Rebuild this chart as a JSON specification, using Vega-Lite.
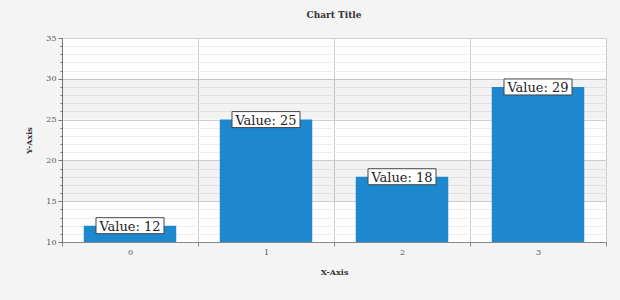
{
  "$schema": "https://vega.github.io/schema/vega-lite/v6.json",
  "width": 544,
  "height": 204,
  "autosize": {"type": "none"},
  "padding": {"left": 62, "top": 38, "right": 14, "bottom": 58},
  "background": "#f4f4f4",
  "config": {
    "view": {"fill": "white", "stroke": "#cccccc"},
    "font": "DejaVu Serif"
  },
  "title": {"text": "Chart Title", "fontSize": 9, "fontWeight": "bold", "font": "DejaVu Serif", "color": "#333333", "offset": 14},
  "datasets": {
    "bars": [
      {"category": "0", "value": 12},
      {"category": "1", "value": 25},
      {"category": "2", "value": 18},
      {"category": "3", "value": 29}
    ],
    "bands": [
      {"from": 15, "to": 20},
      {"from": 25, "to": 30}
    ]
  },
  "layer": [
    {
      "data": {"name": "bands"},
      "mark": {"type": "rect", "fill": "#000000", "opacity": 0.05},
      "encoding": {
        "y": {"field": "from", "type": "quantitative", "scale": {"domain": [10, 35], "nice": false, "zero": false}},
        "y2": {"field": "to"}
      }
    },
    {
      "data": {"name": "bars"},
      "mark": {"type": "bar", "color": "#1e88ce", "width": {"band": 0.68}, "clip": true},
      "encoding": {
        "x": {
          "field": "category", "type": "ordinal",
          "scale": {"paddingInner": 0, "paddingOuter": 0},
          "axis": {
            "title": "X-Axis", "titleFont": "DejaVu Serif", "titleFontSize": 8, "titleFontWeight": "bold", "titleColor": "#333333", "titlePadding": 12,
            "labelAngle": 0, "labelFont": "DejaVu Serif", "labelFontSize": 8, "labelColor": "#555555", "labelPadding": 2,
            "tickBand": "extent", "tickSize": 4, "tickColor": "#888888",
            "domainColor": "#888888", "grid": true, "gridColor": "#cccccc"
          }
        },
        "y": {
          "field": "value", "type": "quantitative",
          "scale": {"domain": [10, 35], "nice": false, "zero": false},
          "axis": {
            "title": "Y-Axis", "titleFont": "DejaVu Serif", "titleFontSize": 8, "titleFontWeight": "bold", "titleColor": "#333333", "titlePadding": 12,
            "values": [10,11,12,13,14,15,16,17,18,19,20,21,22,23,24,25,26,27,28,29,30,31,32,33,34,35],
            "tickCount": 30,
            "labelExpr": "datum.value % 5 === 0 ? datum.label : ''",
            "labelOverlap": false,
            "labelFont": "DejaVu Serif", "labelFontSize": 8, "labelColor": "#555555", "labelPadding": 2,
            "tickColor": "#777777",
            "tickSize": {"condition": {"test": "datum.value % 5 === 0", "value": 4}, "value": 2},
            "domainColor": "#777777",
            "gridColor": {"condition": {"test": "datum.value % 5 === 0", "value": "#d0d0d0"}, "value": "#eeeeee"}
          }
        }
      }
    },
    {
      "data": {"name": "bars"},
      "mark": {"type": "bar", "fill": "white", "stroke": "#444444", "strokeWidth": 1, "width": 68, "yOffset": -8, "y2Offset": 8},
      "encoding": {
        "x": {"field": "category", "type": "ordinal"},
        "y": {"field": "value", "type": "quantitative"},
        "y2": {"field": "value"}
      }
    },
    {
      "data": {"name": "bars"},
      "transform": [{"calculate": "'Value: ' + datum.value", "as": "label"}],
      "mark": {"type": "text", "font": "DejaVu Serif", "fontSize": 13, "color": "#222222", "baseline": "middle", "dy": 1},
      "encoding": {
        "x": {"field": "category", "type": "ordinal"},
        "y": {"field": "value", "type": "quantitative"},
        "text": {"field": "label"}
      }
    }
  ]
}
